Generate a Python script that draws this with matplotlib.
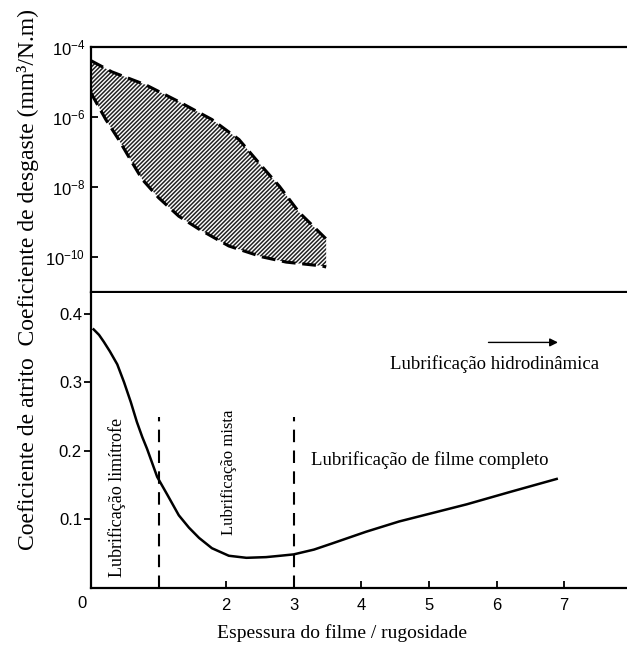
import numpy as np
import matplotlib
matplotlib.use("Agg")
import matplotlib.pyplot as plt
from matplotlib.ticker import NullLocator

plt.rcParams['font.family'] = ['Liberation Sans', 'DejaVu Sans']
plt.rcParams['mathtext.fontset'] = 'custom'
plt.rcParams['mathtext.rm'] = 'Liberation Sans'
plt.rcParams['mathtext.it'] = 'Liberation Sans:italic'
plt.rcParams['hatch.linewidth'] = 1.1

SERIF = ['Liberation Serif', 'DejaVu Serif']

# Coeficiente de desgaste: limites da faixa (x, log10 k)
wear_upper_x = [0.0, 0.31, 0.81, 1.30, 1.79, 2.19, 2.53, 2.79, 3.08, 3.48]
wear_upper_log = [-4.39, -4.71, -5.08, -5.56, -6.07, -6.64, -7.41, -7.98, -8.72, -9.48]
wear_lower_x = [0.0, 0.22, 0.41, 0.61, 0.76, 1.0, 1.30, 1.60, 2.04, 2.53, 2.89, 3.42, 3.48]
wear_lower_log = [-5.31, -6.07, -6.64, -7.30, -7.78, -8.30, -8.83, -9.20, -9.68, -9.99, -10.14, -10.25, -10.28]

# Coeficiente de atrito
fric_x = [0.04, 0.12, 0.19, 0.28, 0.39, 0.49, 0.59, 0.68, 0.76, 0.83, 0.98, 1.13, 1.30, 1.45, 1.60,
          1.79, 2.04, 2.30, 2.59, 2.80, 3.00, 3.30, 3.57, 4.07, 4.56, 5.00, 5.56, 6.20, 6.89]
fric_y = [0.377, 0.369, 0.359, 0.345, 0.326, 0.300, 0.271, 0.242, 0.220, 0.203, 0.162, 0.136, 0.106, 0.088,
          0.073, 0.058, 0.047, 0.044, 0.045, 0.047, 0.049, 0.056, 0.065, 0.082, 0.097, 0.108, 0.122,
          0.140, 0.159]

regime_bounds = [1, 3]
wear_ticks = [1e-4, 1e-6, 1e-8, 1e-10]
wear_ticklabels = [r'$10^{-4}$', r'$10^{-6}$', r'$10^{-8}$', r'$10^{-10}$']
fric_ticks = [0.1, 0.2, 0.3, 0.4]
x_ticks = [2, 3, 4, 5, 6, 7]

fig = plt.figure(figsize=(6.27, 6.48), dpi=100)
ax_w = fig.add_axes([0.145, 0.549, 0.855, 0.3785])
ax_f = fig.add_axes([0.145, 0.0926, 0.855, 0.4552], sharex=ax_w)

# painel superior: desgaste
wu = 10.0 ** np.array(wear_upper_log)
wl = 10.0 ** np.array(wear_lower_log)
poly_x = list(wear_upper_x) + list(wear_lower_x[::-1])
poly_y = list(wu) + list(wl[::-1])
ax_w.set_yscale('log')
ax_w.fill(poly_x, poly_y, facecolor='white', edgecolor='#222222', hatch='////////', linewidth=0)
ax_w.plot(wear_upper_x, wu, color='black', lw=2.2, linestyle=(0, (4.5, 2.2)))
ax_w.plot(wear_lower_x, wl, color='black', lw=2.2, linestyle=(0, (4.5, 2.2)))
ax_w.set_ylim(1e-11, 1e-4)
ax_w.set_yticks(wear_ticks)
ax_w.set_yticklabels(wear_ticklabels)
ax_w.yaxis.set_minor_locator(NullLocator())
ax_w.tick_params(axis='y', direction='in', length=5, width=1.3, labelsize=12, pad=4)
ax_w.tick_params(axis='x', bottom=False, labelbottom=False)
ax_w.spines['right'].set_visible(False)
for s in ['left', 'top', 'bottom']:
    ax_w.spines[s].set_linewidth(1.6)

# painel inferior: atrito
ax_f.plot(fric_x, fric_y, color='black', lw=1.8, solid_joinstyle='round')
for xb in regime_bounds:
    ax_f.plot([xb, xb], [0, 0.25], color='black', lw=1.5, linestyle=(0, (6, 4)))
ax_f.set_xlim(0, 7.93)
ax_f.set_ylim(0, 0.43)
ax_f.set_yticks(fric_ticks)
ax_f.set_yticklabels(['0.1', '0.2', '0.3', '0.4'])
ax_f.set_xticks(x_ticks)
ax_f.set_xticklabels([str(t) for t in x_ticks])
ax_f.tick_params(axis='y', direction='out', length=5, width=1.3, labelsize=12, pad=1.5)
ax_f.tick_params(axis='x', direction='in', length=5, width=1.3, labelsize=12, pad=7)
ax_f.spines['right'].set_visible(False)
ax_f.spines['top'].set_visible(False)
for s in ['left', 'bottom']:
    ax_f.spines[s].set_linewidth(1.6)
ax_f.annotate('0', xy=(0, 0), xycoords='axes fraction', xytext=(-6.5, -11.5),
              textcoords='offset points', ha='center', va='center', fontsize=12)

ax_f.text(0.385, 0.132, 'Lubrificação limítrofe', rotation=90, ha='center', va='center',
          fontsize=13, family=SERIF)
ax_f.text(2.04, 0.168, 'Lubrificação mista', rotation=90, ha='center', va='center',
          fontsize=12, family=SERIF)
ax_f.text(3.26, 0.186, 'Lubrificação de filme completo', ha='left', va='center',
          fontsize=13.5, family=SERIF)
ax_f.text(4.43, 0.326, 'Lubrificação hidrodinâmica', ha='left', va='center',
          fontsize=13.5, family=SERIF)
ax_f.annotate('', xy=(6.95, 0.358), xytext=(5.84, 0.358),
              arrowprops=dict(arrowstyle='-|>', color='black', lw=1.0, mutation_scale=12))

fig.text(0.545, 0.023, 'Espessura do filme / rugosidade', ha='center', va='center',
         fontsize=14, family=SERIF)
fig.text(0.045, 0.568, 'Coeficiente de atrito  Coeficiente de desgaste (mm³/N.m)',
         rotation=90, ha='center', va='center', fontsize=17, family=SERIF)

fig.savefig('out.png', dpi=100)
